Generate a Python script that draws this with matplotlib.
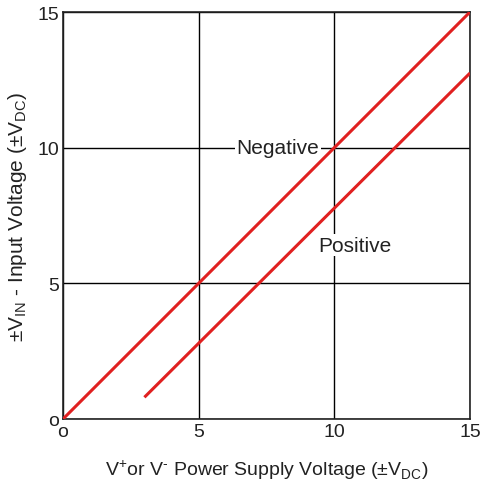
import matplotlib.pyplot as plt

plt.rcParams['font.family'] = ['Liberation Sans', 'DejaVu Sans']
plt.rcParams['mathtext.fontset'] = 'custom'
plt.rcParams['mathtext.rm'] = 'Liberation Sans'

# supply voltage vs input voltage range
neg_x = [0, 15]
neg_y = [0, 15]
pos_x = [3, 15]
pos_y = [0.8, 12.75]

ticks = [0, 5, 10, 15]
tick_labels = ['o', '5', '10', '15']

fig = plt.figure(figsize=(4.81, 4.85), dpi=100)
ax = fig.add_axes([63/481, 65/485, 407/481, 407/485])

ax.plot(neg_x, neg_y, color='#e02020', lw=2.2, solid_capstyle='butt', zorder=3)
ax.plot(pos_x, pos_y, color='#e02020', lw=2.2, solid_capstyle='butt', zorder=3)

ax.set_xlim(0, 15)
ax.set_ylim(0, 15)
ax.set_xticks(ticks)
ax.set_yticks(ticks)
ax.set_xticklabels(tick_labels, fontsize=14)
ax.set_yticklabels(tick_labels, fontsize=14)
ax.tick_params(length=0, pad=3, colors='#222222')
ax.grid(True, color='black', lw=1)
for s in ax.spines.values():
    s.set_linewidth(1.2)
    s.set_color('#222222')

ax.text(7.92, 10, 'Negative', fontsize=15, ha='center', va='center', color='#222222',
        bbox=dict(facecolor='white', edgecolor='none', pad=1), zorder=2)
ax.text(10.76, 6.4, 'Positive', fontsize=15, ha='center', va='center', color='#222222',
        bbox=dict(facecolor='white', edgecolor='none', pad=1), zorder=2)

ax.set_xlabel(r'V$^{\mathregular{+}}$or V$^{\text{-}}$ Power Supply Voltage (±V$_{\mathregular{DC}}$)',
              fontsize=14, labelpad=12, color='#222222')
ax.set_ylabel(r'±V$_{\mathregular{IN}}$ - Input Voltage (±V$_{\mathregular{DC}}$)',
              fontsize=15, labelpad=6, color='#222222')

fig.savefig('out.png', dpi=100)
